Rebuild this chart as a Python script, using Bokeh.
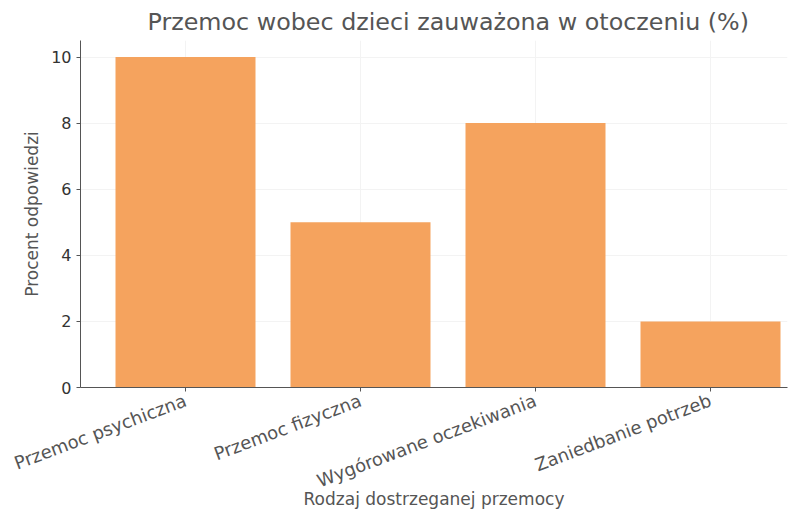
from bokeh.plotting import figure
from bokeh.models import ColumnDataSource, Range1d, FixedTicker
from bokeh.embed import file_html
from bokeh.resources import INLINE

categories = ["Przemoc psychiczna", "Przemoc fizyczna", "Wygórowane oczekiwania", "Zaniedbanie potrzeb"]
values = [10, 5, 8, 2]
y_ticks = [0, 2, 4, 6, 8, 10]

xs = list(range(len(categories)))
src = ColumnDataSource(dict(x=xs, top=values))

FONT = "DejaVu Sans"
p = figure(frame_width=707, frame_height=347, output_backend="svg", toolbar_location=None,
           x_range=Range1d(-0.6, 3.44), y_range=Range1d(0, 10.5),
           min_border_left=80, min_border_top=40, min_border_right=4, min_border_bottom=60)
p.vbar(x="x", top="top", width=0.8, source=src, color="#F5A35E", line_color=None)

p.title.text = "Przemoc wobec dzieci zauważona w otoczeniu (%)"
p.title.text_font = FONT
p.title.text_font_size = "23.8px"
p.title.text_font_style = "normal"
p.title.text_color = "#555555"
p.title.align = "left"
p.title.offset = 67

p.xaxis.ticker = FixedTicker(ticks=xs)
p.xaxis.major_label_overrides = {i: c for i, c in enumerate(categories)}
p.xaxis.major_label_orientation = 0.36
p.yaxis.ticker = FixedTicker(ticks=y_ticks)

for ax in (p.xaxis[0], p.yaxis[0]):
    ax.major_label_text_font = FONT
    ax.axis_label_text_font = FONT
    ax.axis_label_text_font_style = "normal"
    ax.axis_line_color = "#555555"
    ax.major_tick_line_color = "#555555"
    ax.minor_tick_line_color = None
    ax.major_tick_out = 4
    ax.major_tick_in = 0
    ax.axis_label_text_color = "#555555"

p.xaxis.major_label_text_font_size = "18px"
p.xaxis.major_label_text_color = "#555555"
p.xaxis.major_label_standoff = 8
p.yaxis.major_label_text_font_size = "16px"
p.yaxis.major_label_text_color = "#333333"
p.xaxis.axis_label = "Rodzaj dostrzeganej przemocy"
p.yaxis.axis_label = "Procent odpowiedzi"
p.xaxis.axis_label_text_font_size = "17px"
p.yaxis.axis_label_text_font_size = "17px"
p.xaxis.axis_label_standoff = -15
p.yaxis.axis_label_standoff = 6

p.xgrid.grid_line_color = "#f3f3f3"
p.ygrid.grid_line_color = "#f3f3f3"
p.outline_line_color = None

open("out.html", "w").write(file_html(p, INLINE))
